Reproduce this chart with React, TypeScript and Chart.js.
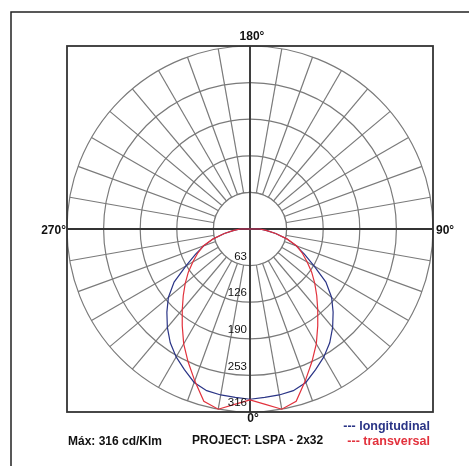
import React, { useEffect, useRef } from 'react';
import { Chart, registerables } from 'chart.js';

Chart.register(...registerables);

// Photometric angles (degrees, 0° = down, 90° = right, 180° = up, 270° = left)
const ANGLES = [
  0, 5, 10, 15, 20, 25, 30, 35, 40, 45, 50, 55, 60, 65, 70, 75, 80, 85,
  90, 95, 100, 105, 110, 115, 120, 125, 130, 135, 140, 145, 150, 155, 160, 165, 170, 175,
  180, 185, 190, 195, 200, 205, 210, 215, 220, 225, 230, 235, 240, 245, 250, 255, 260, 265,
  270, 275, 280, 285, 290, 295, 300, 305, 310, 315, 320, 325, 330, 335, 340, 345, 350, 355,
];

// Intensity in cd/klm for each angle above
const LONGITUDINAL = [
  294, 292, 291, 289, 282, 268, 255, 240, 222, 203, 184, 160, 128, 104, 85, 66, 45, 28,
  17, 0, 0, 0, 0, 0, 0, 0, 0, 0, 0, 0, 0, 0, 0, 0, 0, 0,
  0, 0, 0, 0, 0, 0, 0, 0, 0, 0, 0, 0, 0, 0, 0, 0, 0, 0,
  17, 28, 45, 66, 85, 104, 128, 160, 184, 203, 222, 240, 255, 268, 282, 289, 291, 292,
];

const TRANSVERSAL = [
  295, 304, 316, 308, 279, 253, 229, 204, 182, 163, 146, 130, 114, 100, 86, 66, 45, 28,
  17, 0, 0, 0, 0, 0, 0, 0, 0, 0, 0, 0, 0, 0, 0, 0, 0, 0,
  0, 0, 0, 0, 0, 0, 0, 0, 0, 0, 0, 0, 0, 0, 0, 0, 0, 0,
  17, 28, 45, 66, 86, 100, 114, 130, 146, 163, 182, 204, 229, 253, 279, 308, 316, 304,
];

const SERIES_NAMES = ['longitudinal', 'transversal'];
const SERIES_COLORS = ['#2a3486', '#e2313c'];

const MAX_VALUE = 316;
const RING_VALUES = [63.2, 126.4, 189.6, 252.8, 316];
const RING_LABELS = ['63', '126', '190', '253', '316'];
const SPOKE_STEP_DEG = 10;

const AXIS_TEXT = { down: '0°', right: '90°', up: '180°', left: '270°' };
const FOOTER_MAX = 'Máx: 316 cd/Klm';
const FOOTER_PROJECT = 'PROJECT: LSPA - 2x32';

const GRID_COLOR = '#7a7a7a';
const AXIS_COLOR = '#333333';
const FONT = '"Liberation Sans", Arial, sans-serif';

// radar goes clockwise from the start angle; photometric angles go counter-clockwise
const N = ANGLES.length;
const radarIndex = ANGLES.map((_, i) => (N - i) % N);
const radarLabels = radarIndex.map((k) => ANGLES[k]);
const radarLong = radarIndex.map((k) => LONGITUDINAL[k]);
const radarTrans = radarIndex.map((k) => TRANSVERSAL[k]);

const photometricPlugin = {
  id: 'photometric',
  beforeDatasetsDraw(chart: any) {
    const s = chart.scales.r;
    const { ctx, chartArea: a } = chart;
    const cx = s.xCenter;
    const cy = s.yCenter;
    const hole = s.getDistanceFromCenterForValue(RING_VALUES[0]);
    ctx.save();
    ctx.fillStyle = '#ffffff';
    ctx.beginPath();
    ctx.arc(cx, cy, hole, 0, Math.PI * 2);
    ctx.fill();
    ctx.strokeStyle = GRID_COLOR;
    ctx.lineWidth = 1.2;
    ctx.stroke();
    ctx.strokeStyle = AXIS_COLOR;
    ctx.lineWidth = 1.8;
    ctx.beginPath();
    ctx.moveTo(a.left, cy);
    ctx.lineTo(a.right, cy);
    ctx.moveTo(cx, a.top);
    ctx.lineTo(cx, a.bottom);
    ctx.stroke();
    ctx.strokeRect(a.left, a.top, a.right - a.left, a.bottom - a.top);
    ctx.restore();
  },
  afterDatasetsDraw(chart: any) {
    const s = chart.scales.r;
    const { ctx, chartArea: a } = chart;
    const cx = s.xCenter;
    const cy = s.yCenter;
    ctx.save();
    // ring labels along the 0° direction
    ctx.fillStyle = '#111';
    ctx.font = `11.5px ${FONT}`;
    ctx.textAlign = 'right';
    ctx.textBaseline = 'middle';
    RING_VALUES.forEach((v, i) => {
      const r = s.getDistanceFromCenterForValue(v);
      ctx.fillText(RING_LABELS[i], cx - 3, cy + r - 9);
    });
    // angle labels
    ctx.font = `bold 12px ${FONT}`;
    ctx.textAlign = 'center';
    ctx.fillText(AXIS_TEXT.up, cx + 2, a.top - 9);
    ctx.fillText(AXIS_TEXT.down, cx + 3, a.bottom + 7);
    ctx.textAlign = 'right';
    ctx.fillText(AXIS_TEXT.left, a.left - 1, cy + 2);
    ctx.textAlign = 'left';
    ctx.fillText(AXIS_TEXT.right, a.right + 3, cy + 2);
    // footer
    ctx.font = `bold 12px ${FONT}`;
    ctx.textAlign = 'left';
    ctx.fillStyle = '#111';
    ctx.fillText(FOOTER_MAX, 68, 442);
    ctx.fillText(FOOTER_PROJECT, 192, 441);
    // legend
    ctx.font = `bold 12.5px ${FONT}`;
    ctx.textAlign = 'right';
    SERIES_NAMES.forEach((name, i) => {
      ctx.fillStyle = SERIES_COLORS[i];
      ctx.fillText(`--- ${name}`, 430, 427 + i * 15);
    });
    // outer frame (cut at right and bottom)
    ctx.strokeStyle = '#222';
    ctx.lineWidth = 1.5;
    ctx.beginPath();
    ctx.moveTo(11, chart.height);
    ctx.lineTo(11, 12);
    ctx.lineTo(chart.width, 12);
    ctx.stroke();
    ctx.restore();
  },
};

export default function App() {
  const canvasRef = useRef<HTMLCanvasElement | null>(null);

  useEffect(() => {
    if (!canvasRef.current) return;
    const chart = new Chart(canvasRef.current, {
      type: 'radar',
      data: {
        labels: radarLabels,
        datasets: [
          {
            label: SERIES_NAMES[0],
            data: radarLong,
            borderColor: SERIES_COLORS[0],
            borderWidth: 1.2,
            pointRadius: 0,
            fill: false,
            tension: 0,
            order: 1,
          },
          {
            label: SERIES_NAMES[1],
            data: radarTrans,
            borderColor: SERIES_COLORS[1],
            borderWidth: 1.2,
            pointRadius: 0,
            fill: false,
            tension: 0,
            order: 0,
          },
        ],
      },
      options: {
        animation: false,
        responsive: true,
        maintainAspectRatio: false,
        events: [],
        layout: { padding: { left: 67, right: 36, top: 46, bottom: 54 } },
        plugins: { legend: { display: false }, tooltip: { enabled: false } },
        scales: {
          r: {
            min: 0,
            max: MAX_VALUE,
            startAngle: 180,
            afterBuildTicks: (scale: any) => {
              scale.ticks = [0, ...RING_VALUES].map((value) => ({ value }));
            },
            ticks: { display: false },
            pointLabels: { display: false },
            grid: { circular: true, color: GRID_COLOR, lineWidth: 1.2 },
            angleLines: {
              display: true,
              color: (c: any) =>
                (Number(radarLabels[c.index]) % SPOKE_STEP_DEG === 0 ? GRID_COLOR : 'rgba(0,0,0,0)'),
              lineWidth: (c: any) => (Number(radarLabels[c.index]) % SPOKE_STEP_DEG === 0 ? 1.2 : 0),
            },
          },
        },
      },
      plugins: [photometricPlugin],
    });
    return () => chart.destroy();
  }, []);

  return (
    <div style={{ position: 'fixed', left: 0, top: 0, width: 469, height: 466, background: '#fff' }}>
      <canvas ref={canvasRef} />
    </div>
  );
}
